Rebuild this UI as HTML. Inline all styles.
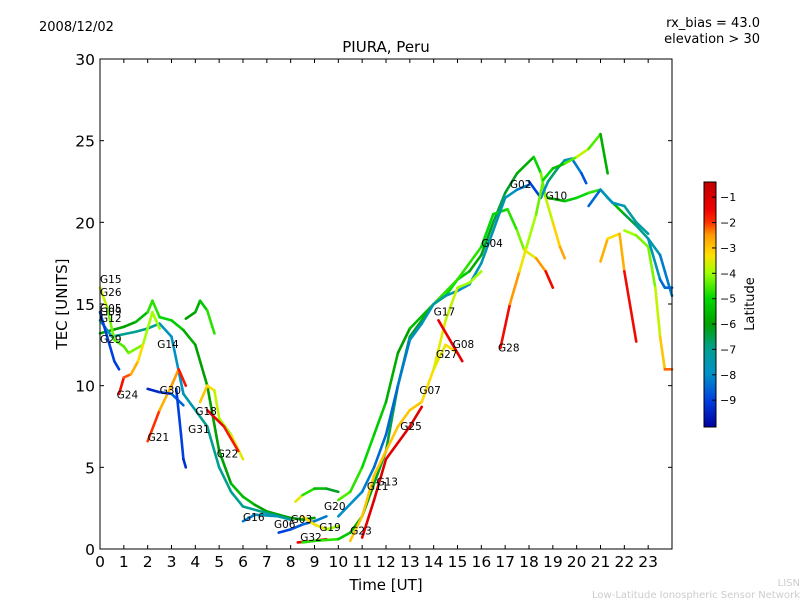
<!DOCTYPE html>
<html><head><meta charset="utf-8"><style>
body{margin:0;background:#fff;font-family:"DejaVu Sans","Liberation Sans",sans-serif}
svg text{font-family:"DejaVu Sans","Liberation Sans",sans-serif}
</style></head><body>
<svg id="c" width="800" height="600" xmlns="http://www.w3.org/2000/svg">
<defs><linearGradient id="cmap" x1="0" y1="1" x2="0" y2="0">
<stop offset="0" stop-color="#0000a0"/><stop offset="0.11" stop-color="#0040e0"/><stop offset="0.215" stop-color="#0090c8"/><stop offset="0.32" stop-color="#00a090"/><stop offset="0.42" stop-color="#00a000"/><stop offset="0.525" stop-color="#00d800"/><stop offset="0.63" stop-color="#a0ff00"/><stop offset="0.70" stop-color="#ffe000"/><stop offset="0.785" stop-color="#ff9900"/><stop offset="0.835" stop-color="#ff3000"/><stop offset="0.89" stop-color="#ee0000"/><stop offset="1" stop-color="#c00000"/></linearGradient></defs>
<text x="39" y="31" font-size="13">2008/12/02</text>
<text x="760" y="27" font-size="13" text-anchor="end">rx_bias = 43.0</text>
<text x="760" y="43" font-size="13" text-anchor="end">elevation &gt; 30</text>
<text x="386" y="52" font-size="15" text-anchor="middle">PIURA, Peru</text>
<text transform="translate(67,304) rotate(-90)" font-size="15" text-anchor="middle">TEC [UNITS]</text>
<text x="386" y="590" font-size="15" text-anchor="middle">Time [UT]</text>
<text x="800" y="586" font-size="10" fill="#ccc" text-anchor="end">LISN</text>
<text x="800" y="598" font-size="10" fill="#ccc" text-anchor="end">Low-Latitude Ionospheric Sensor Network</text>
<g id="marks"></g>
<rect x="100" y="59" width="572" height="490" fill="none" stroke="#000"/>
<g id="axes"></g>
<rect x="704" y="182" width="12" height="245" fill="url(#cmap)" stroke="#000"/>
<text transform="translate(754,304) rotate(-90)" font-size="13" text-anchor="middle">Latitude</text>
<g id="cb"></g>
</svg>
<script>
const xTicks=[0,1,2,3,4,5,6,7,8,9,10,11,12,13,14,15,16,17,18,19,20,21,22,23];
const yTicks=[0,5,10,15,20,25,30];
const cbTicks=[-1,-2,-3,-4,-5,-6,-7,-8,-9];
const tG14=[[0,13.2,-6],[0.5,13.4,-6],[1,13.6,-6],[1.5,13.9,-6],[2,14.5,-5],[2.2,15.2,-4.5],[2.5,14.2,-5],[3,14,-5],[3.5,13.4,-5.5],[4,12.5,-6],[4.5,10,-6],[5,6,-6],[5.5,4,-6],[6,3.2,-5],[6.5,2.7,-6],[7,2.3,-6],[7.5,2.1,-6],[8,1.9,-6],[8.5,1.8,-6],[9,1.9,-6]];
const tG30b=[[0,14,-8],[0.5,13,-7],[1.5,13.3,-7],[2,13.5,-7],[2.5,13.8,-7.5],[3,13,-8],[3.5,9.5,-8],[4,8.5,-7],[4.5,7.5,-7],[5,5,-7],[5.5,3.5,-7],[6,2.6,-7],[7,2.2,-7],[8,1.8,-7]];
const tG15=[[0,16,-3.5],[0.3,14.8,-4],[0.6,12.8,-4.5],[1,12.4,-4.5],[1.2,12,-4.5],[1.8,12.5,-4],[2.2,14.5,-4],[2.5,13.5,-4]];
const tG26=[[0,14.5,-9],[0.3,13,-9],[0.6,11.5,-9],[0.8,11,-9]];
const tG24=[[0.8,9.5,-1.5],[1,10.5,-1.8],[1.3,10.7,-2.5],[1.6,11.5,-3],[1.8,12.5,-3.5]];
const tG21=[[2,6.6,-1.5],[2.5,8.5,-2.5],[3,10,-3],[3.3,11,-2],[3.6,10,-1.5]];
const tG30=[[2,9.8,-9.5],[2.5,9.6,-9.3],[3,9.5,-9],[3.5,8.8,-8]];
const tCy=[[3.6,14.1,-6],[4,14.5,-6],[4.2,15.2,-5.5],[4.5,14.6,-5],[4.8,13.2,-4.5]];
const tG31=[[3.2,9.8,-9],[3.4,7,-9],[3.5,5.5,-9],[3.6,5,-9.5]];
const tG22=[[4.2,9,-3],[4.5,10,-3],[4.8,9.7,-3.5],[5,8,-4],[5.5,7,-4],[6,5.5,-3]];
const tG18=[[4.5,8.5,-1.5],[5.2,7.5,-1.5],[5.8,6,-2]];
const tG16=[[6,1.7,-8.5],[6.5,2.1,-8],[7.5,2,-7.5],[8,1.8,-7]];
const tG03=[[7.5,1,-9],[8,1.2,-9],[8.5,1.5,-8.5],[9,1.7,-8.5],[9.5,2,-8]];
const tG32=[[8.3,0.4,-1.5],[9,0.5,-1.5],[9.5,0.6,-2]];
const tG20=[[8.2,2.9,-3],[8.5,3.3,-4],[9,3.7,-5.5],[9.5,3.7,-5.5],[10,3.5,-7]];
const tG19=[[8.5,2,-3.5],[9,1.5,-3],[9.5,1.2,-4],[10,1.4,-4]];
const tG02=[[8.5,0.4,-5],[9,0.5,-4.5],[10,0.6,-5],[10.5,1,-5.5],[11,2,-6],[11.5,4,-6],[12,6,-6.5],[12.5,10,-6.5],[13,13,-6.5],[13.5,14,-6],[14,15,-5.5],[14.5,15.5,-5],[15,16.5,-5],[15.5,17,-5.5],[16,18,-6],[16.5,20,-6.5],[17,21.8,-6.5],[17.5,23,-6],[18.2,24,-5.5],[18.5,23,-4.5],[18.7,21.5,-4],[19,20,-3.5],[19.3,18.5,-2.8],[19.5,17.8,-2.5]];
const tG04=[[10,3,-4.5],[10.5,3.5,-4.5],[11,5,-5],[11.5,7,-5],[12,9,-5.5],[12.5,12,-6],[13,13.5,-6],[14,15,-5],[15,16.5,-4.5],[16,18.5,-5],[16.5,20.5,-5],[17.1,20.8,-5],[17.5,19.5,-4.5],[17.8,18.3,-4],[18.3,17.8,-3],[18.7,17,-2],[19,16,-1.2]];
const tG17=[[10,2,-8],[11,3.5,-8],[11.5,5,-8.5],[12,7,-8.5],[12.5,10,-8.5],[13,12.8,-8],[13.5,13.8,-8],[14,15,-7.5],[14.5,15.5,-7],[15,15.8,-8],[15.5,16.2,-8],[16,17.5,-7.5],[16.5,19.5,-7.5],[17,21.5,-7.5],[17.5,22,-8],[18,22.3,-8.5]];
const tG10=[[18,22.5,-9],[18.5,21.5,-9],[18.8,22.5,-7],[19.2,23.3,-6.5],[19.5,23.8,-7.5],[19.8,23.9,-8],[20.2,23,-8.5],[20.4,22.4,-9]];
const tG25=[[10.5,0.5,-3],[11,2,-3],[11.5,4.5,-3],[12,6,-3],[12.5,7.5,-3],[13,8.5,-3],[13.5,9,-3],[14,11,-3.5],[14.5,12.5,-3.5],[15,12,-3]];
const tG23=[[11,0.7,-1.2],[11.5,3,-1.2],[12,5.5,-1.2],[13,7.5,-1.2],[13.5,8.7,-1.2]];
const tG27=[[14,11,-3.5],[14.5,14,-3.5],[15,16,-4],[15.5,16.3,-4],[16,17,-4]];
const tG08=[[14.2,14,-1.5],[14.8,12.5,-1.5],[15.2,11.5,-1.2]];
const tG28=[[16.8,12.3,-1.2],[17.2,15,-2],[17.6,17,-3],[17.9,18.5,-3.8],[18.3,20.5,-4.2],[18.6,22.6,-4.5],[19,23.3,-5.5],[19.5,23.6,-5.5],[20,24,-3.5],[20.5,24.5,-4],[21,25.4,-5],[21.3,23,-6.5]];
const tGr=[[18.8,21.5,-6],[19.5,21.3,-5.5],[20,21.5,-5],[20.5,21.8,-5],[21,22,-4.5],[21.3,21.5,-5],[22,20.5,-6],[22.5,19.8,-7],[23,19,-7],[23.5,18,-8],[24,15.5,-8.5]];
const tCy2=[[20.5,21,-9],[21,22,-8],[21.5,21.2,-8],[22,21,-7.5],[22.5,20,-7],[23,19.3,-7.5]];
const tOr2=[[21,17.6,-2.5],[21.3,19,-3],[21.8,19.3,-3.5],[22,17,-2],[22.5,12.7,-1.2]];
const tY=[[22,19.5,-4],[22.5,19.2,-4],[23,18.5,-4.5],[23.3,16,-4],[23.5,13,-3.5],[23.7,11,-2.5],[24,11,-2]];
const tB=[[23,19,-7.5],[23.5,16.5,-8],[23.7,16,-9],[24,16,-8]];
const tracks=[tG14,tG30b,tG15,tG26,tG24,tG21,tG30,tCy,tG31,tG22,tG18,tG16,tG03,tG32,tG20,tG19,tG02,tG04,tG17,tG10,tG25,tG23,tG27,tG08,tG28,tGr,tCy2,tOr2,tY,tB];
const labelNames=["G15","G26","G05","G09","G12","G29","G24","G14","G30","G21","G18","G31","G22","G16","G06","G03","G32","G19","G20","G23","G11","G13","G25","G07","G27","G08","G17","G04","G28","G02","G10"];
const labelX=[0,0,0,0,0,0,0.7,2.4,2.5,2,4,3.7,4.9,6,7.3,8,8.4,9.2,9.4,10.5,11.2,11.6,12.6,13.4,14.1,14.8,14,16,16.7,17.2,18.7];
const labelY=[16.3,15.5,14.5,14.3,13.9,12.6,9.2,12.3,9.5,6.6,8.2,7.1,5.6,1.7,1.3,1.6,0.5,1.1,2.4,0.9,3.6,3.9,7.3,9.5,11.7,12.3,14.3,18.5,12.1,22.1,21.4];
const X=t=>100+t*572/24, Y=v=>549-v*490/30, C=l=>427-(l+10.06)*245/9.66;
const cStops=[[-10,[0,0,160]],[-9,[0,64,224]],[-8,[0,144,200]],[-7,[0,160,144]],[-6,[0,160,0]],[-5,[0,216,0]],[-4,[160,255,0]],[-3.3,[255,224,0]],[-2.5,[255,153,0]],[-2,[255,48,0]],[-1.5,[238,0,0]],[-0.4,[192,0,0]]];
function cmap(l){if(l<=cStops[0][0])return 'rgb('+cStops[0][1]+')';
 for(let i=0;i<cStops.length-1;i++){const a=cStops[i],b=cStops[i+1];if(l<=b[0]){const f=(l-a[0])/(b[0]-a[0]);
  return 'rgb('+a[1].map((c,k)=>Math.round(c+f*(b[1][k]-c))).join(',')+')';}}
 return 'rgb('+cStops[cStops.length-1][1]+')';}
const NS="http://www.w3.org/2000/svg";
const mk=(tag,at,p)=>{const e=document.createElementNS(NS,tag);for(const k in at)e.setAttribute(k,at[k]);p.appendChild(e);return e;};
const marks=document.getElementById('marks'),axes=document.getElementById('axes'),cb=document.getElementById('cb');
tracks.forEach((tr,i)=>{const g=mk('g',{},marks);
 
 
 for(let j=0;j<tr.length-1;j++){const a=tr[j],b=tr[j+1];
  mk('line',{x1:X(a[0]),y1:Y(a[1]),x2:X(b[0]),y2:Y(b[1]),stroke:cmap((a[2]+b[2])/2),'stroke-width':2.6,'stroke-linecap':'round'},g);}
});
labelNames.forEach((n,i)=>{const t=mk('text',{x:X(labelX[i]),y:Y(labelY[i]),'font-size':10.5},marks);t.textContent=n;
 
 });
xTicks.forEach(t=>{mk('line',{x1:X(t),x2:X(t),y1:549,y2:545,stroke:'#000'},axes);mk('line',{x1:X(t),x2:X(t),y1:59,y2:63,stroke:'#000'},axes);
 const e=mk('text',{x:X(t),y:567,'font-size':15.5,'text-anchor':'middle'},axes);e.textContent=t;
 
 });
yTicks.forEach(v=>{mk('line',{x1:100,x2:104,y1:Y(v),y2:Y(v),stroke:'#000'},axes);mk('line',{x1:672,x2:668,y1:Y(v),y2:Y(v),stroke:'#000'},axes);
 const e=mk('text',{x:95,y:Y(v)+6,'font-size':15.5,'text-anchor':'end'},axes);e.textContent=v;
 
 });
cbTicks.forEach(v=>{mk('line',{x1:712,x2:716,y1:C(v),y2:C(v),stroke:'#000'},cb);
 const e=mk('text',{x:720,y:C(v)+4,'font-size':11},cb);e.textContent='\u2212'+(-v);
 
 });
</script>
</body></html>
